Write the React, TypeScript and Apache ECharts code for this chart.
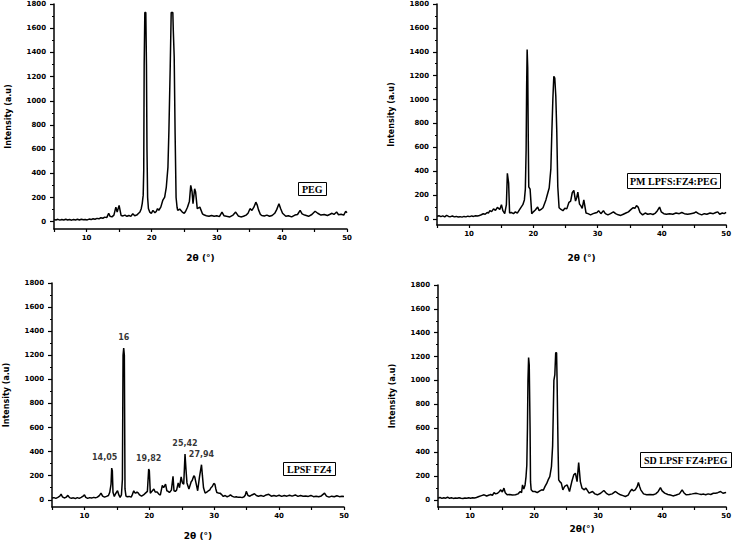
import React, { useEffect, useRef } from "react";
import * as echarts from "echarts";

// ---- data (2θ in degrees, intensity in a.u.) ----
const pegData: number[][] = [
  [5.0,18],[5.3,14],[5.6,20],[5.9,13],[6.2,19],[6.5,15],[6.8,21],[7.1,14],[7.4,18],[7.7,13],[8.0,19],[8.3,15],[8.6,20],[8.9,14],[9.2,21],[9.5,16],[9.8,19],[10.1,15],[10.4,22],[10.7,18],[11.0,25],[11.3,21],[11.6,28],[11.9,24],[12.2,33],[12.5,29],[12.8,38],[13.1,34],[13.4,70],[13.6,45],[13.9,40],[14.2,55],[14.5,121],[14.7,80],[15.0,135],[15.3,52],[15.6,48],[15.9,55],[16.2,45],[16.5,52],[16.8,44],[17.1,66],[17.4,50],[17.7,55],[18.0,70],[18.2,80],[18.4,108],[18.55,150],[18.7,220],[18.78,420],[18.85,1300],[18.95,1730],[19.1,1730],[19.2,1300],[19.28,600],[19.38,200],[19.5,110],[19.7,80],[19.95,70],[20.2,94],[20.5,75],[20.7,85],[20.9,108],[21.1,95],[21.4,121],[21.7,176],[22.0,204],[22.25,287],[22.5,452],[22.65,756],[22.85,1281],[23.0,1730],[23.25,1730],[23.32,1585],[23.46,1364],[23.6,730],[23.75,200],[23.9,120],[24.0,94],[24.3,105],[24.7,80],[25.0,70],[25.2,85],[25.5,120],[25.8,170],[26.0,301],[26.2,250],[26.35,149],[26.6,273],[26.75,246],[27.0,108],[27.4,121],[27.8,66],[28.1,55],[28.4,50],[28.8,45],[29.2,52],[29.6,45],[30.0,50],[30.4,42],[30.8,80],[31.1,50],[31.5,45],[32.0,40],[32.5,55],[32.9,80],[33.3,48],[33.7,40],[34.1,45],[34.5,55],[34.8,70],[35.1,108],[35.4,94],[35.7,120],[36.0,162],[36.2,140],[36.4,100],[36.7,60],[36.9,52],[37.3,48],[37.7,55],[38.1,45],[38.5,52],[38.9,70],[39.2,100],[39.55,148],[39.8,110],[40.1,70],[40.6,45],[41.0,50],[41.5,40],[42.0,55],[42.4,60],[42.8,94],[43.1,65],[43.5,55],[44.1,45],[44.6,60],[45.1,87],[45.5,70],[46.0,55],[46.5,60],[47.0,52],[47.4,62],[47.7,70],[48.0,60],[48.4,80],[48.7,58],[49.1,62],[49.5,55],[49.8,87],[50.0,75]
];

const pmData: number[][] = [
  [5.0,22],[5.3,28],[5.6,20],[5.9,26],[6.2,18],[6.5,30],[6.8,22],[7.1,20],[7.4,25],[7.7,18],[8.0,22],[8.3,17],[8.6,20],[8.9,16],[9.2,22],[9.5,18],[9.8,24],[10.1,20],[10.4,26],[10.7,22],[11.0,28],[11.3,25],[11.6,30],[11.9,36],[12.2,44],[12.5,40],[12.8,55],[13.0,50],[13.23,70],[13.5,62],[13.8,85],[14.1,72],[14.4,97],[14.77,80],[15.03,120],[15.25,70],[15.54,45],[15.8,120],[15.95,382],[16.15,300],[16.3,50],[16.56,55],[16.9,45],[17.2,60],[17.5,50],[17.8,75],[18.1,100],[18.36,120],[18.6,160],[18.75,250],[18.87,575],[18.95,1100],[19.03,1419],[19.12,1265],[19.2,700],[19.28,270],[19.49,250],[19.74,45],[20.0,60],[20.3,75],[20.67,100],[20.9,70],[21.2,80],[21.5,95],[21.95,160],[22.2,210],[22.46,260],[22.72,420],[22.87,720],[23.03,1000],[23.18,1195],[23.33,1180],[23.49,1030],[23.64,740],[23.8,270],[24.0,95],[24.3,80],[24.6,70],[24.9,90],[25.2,85],[25.54,140],[25.8,150],[26.05,220],[26.3,240],[26.56,150],[26.75,180],[26.92,225],[27.18,125],[27.4,110],[27.6,90],[27.85,160],[28.2,50],[28.5,45],[28.9,35],[29.3,45],[29.6,50],[29.9,55],[30.15,70],[30.5,45],[30.9,70],[31.2,45],[31.6,35],[32.0,45],[32.46,60],[32.8,45],[33.2,35],[33.6,30],[34.0,40],[34.4,50],[34.8,60],[35.0,70],[35.3,85],[35.54,95],[35.8,90],[36.05,112],[36.3,100],[36.6,55],[37.0,35],[37.4,50],[37.8,40],[38.2,45],[38.6,38],[39.0,50],[39.3,70],[39.64,100],[39.9,60],[40.3,45],[40.7,40],[41.2,45],[41.7,40],[42.2,50],[42.7,45],[43.1,55],[43.5,45],[44.0,40],[44.5,45],[45.0,50],[45.3,60],[45.7,45],[46.2,35],[46.6,45],[47.0,40],[47.5,50],[48.0,45],[48.4,55],[48.7,60],[49.0,40],[49.4,50],[49.7,45],[50.0,55]
];

const lpsfData: number[][] = [
  [5.0,14],[5.3,18],[5.6,12],[5.9,20],[6.2,30],[6.4,47],[6.6,25],[6.9,15],[7.2,22],[7.45,37],[7.7,18],[8.0,12],[8.3,16],[8.6,10],[8.9,18],[9.2,12],[9.5,20],[9.8,30],[10.0,42],[10.2,20],[10.5,12],[10.8,18],[11.1,14],[11.4,20],[11.7,16],[12.0,22],[12.3,35],[12.55,55],[12.8,30],[13.1,22],[13.4,28],[13.7,35],[13.9,62],[14.1,130],[14.2,263],[14.3,240],[14.4,62],[14.6,28],[14.8,50],[15.1,76],[15.3,40],[15.5,20],[15.7,40],[15.85,170],[15.95,1200],[16.05,1260],[16.15,1200],[16.25,90],[16.4,30],[16.6,25],[16.9,28],[17.2,22],[17.4,45],[17.6,75],[17.75,60],[17.9,55],[18.1,65],[18.3,55],[18.5,40],[18.8,30],[19.1,40],[19.4,55],[19.7,70],[19.9,255],[20.0,240],[20.15,55],[20.4,70],[20.7,90],[20.9,65],[21.2,65],[21.5,45],[21.7,40],[22.0,120],[22.2,100],[22.5,130],[22.7,75],[22.9,70],[23.1,60],[23.4,80],[23.65,195],[23.8,75],[24.0,70],[24.2,80],[24.45,140],[24.65,100],[24.9,190],[25.1,140],[25.3,130],[25.5,379],[25.65,250],[25.8,140],[26.1,90],[26.45,150],[26.6,160],[26.86,200],[27.0,190],[27.15,150],[27.45,75],[27.73,190],[28.04,291],[28.18,200],[28.35,100],[28.6,55],[28.9,65],[29.1,75],[29.3,80],[29.5,100],[29.7,110],[29.93,135],[30.1,130],[30.25,90],[30.4,60],[30.7,55],[30.9,55],[31.1,45],[31.4,28],[31.7,35],[32.0,25],[32.3,32],[32.5,40],[32.8,28],[33.1,22],[33.4,25],[33.7,20],[34.0,22],[34.3,18],[34.6,25],[34.8,40],[34.94,70],[35.2,35],[35.5,30],[35.8,40],[36.2,50],[36.5,35],[36.8,30],[37.2,35],[37.6,28],[38.0,40],[38.4,45],[38.8,30],[39.2,35],[39.6,30],[40.0,38],[40.4,28],[40.8,35],[41.2,30],[41.6,38],[42.0,30],[42.5,40],[42.9,28],[43.3,35],[43.7,30],[44.1,32],[44.5,28],[44.9,36],[45.3,26],[45.7,30],[46.1,25],[46.5,32],[47.0,55],[47.3,30],[47.7,22],[48.1,30],[48.5,25],[48.9,33],[49.3,26],[49.7,30],[50.0,28]
];

const sdData: number[][] = [
  [5.0,14],[5.3,20],[5.6,12],[5.9,18],[6.2,14],[6.5,22],[6.8,13],[7.1,17],[7.4,12],[7.7,16],[8.0,13],[8.3,18],[8.6,14],[8.9,12],[9.2,16],[9.5,13],[9.8,17],[10.1,14],[10.4,18],[10.7,15],[11.0,20],[11.4,28],[11.8,35],[12.2,42],[12.6,32],[13.0,40],[13.2,45],[13.5,38],[13.75,61],[14.0,50],[14.3,55],[14.6,70],[14.8,84],[15.05,65],[15.3,98],[15.5,60],[15.8,42],[16.2,45],[16.6,40],[17.1,42],[17.5,50],[17.85,70],[18.05,60],[18.2,125],[18.4,90],[18.6,125],[18.75,195],[18.87,290],[18.97,600],[19.05,1000],[19.15,1193],[19.25,1130],[19.32,1130],[19.38,600],[19.45,150],[19.55,84],[19.8,70],[20.15,70],[20.5,60],[20.9,75],[21.2,84],[21.45,80],[21.7,111],[22.0,140],[22.2,167],[22.46,195],[22.72,279],[22.9,450],[23.0,720],[23.1,1000],[23.25,1050],[23.38,1232],[23.52,1232],[23.6,1000],[23.68,690],[23.76,400],[23.85,168],[24.05,150],[24.26,140],[24.5,84],[24.77,112],[25.18,125],[25.54,70],[25.9,153],[26.2,209],[26.46,223],[26.72,153],[26.97,312],[27.23,153],[27.49,98],[27.85,84],[28.1,98],[28.6,56],[29.13,70],[29.5,50],[29.9,42],[30.4,55],[30.9,78],[31.3,55],[31.7,42],[32.2,50],[32.72,70],[33.1,55],[33.5,42],[33.9,35],[34.26,28],[34.7,40],[35.0,70],[35.28,89],[35.5,75],[35.8,84],[36.1,110],[36.3,145],[36.5,110],[36.67,84],[37.1,50],[37.6,42],[38.1,45],[38.6,42],[39.0,50],[39.4,70],[39.74,102],[40.0,75],[40.4,56],[40.9,45],[41.3,40],[41.7,33],[42.2,40],[42.7,50],[43.13,84],[43.4,60],[43.74,42],[44.2,45],[44.7,50],[45.28,56],[45.7,50],[46.1,45],[46.5,48],[46.8,42],[47.2,50],[47.6,45],[48.0,55],[48.36,56],[48.7,60],[49.13,70],[49.5,55],[49.8,60],[50.0,61]
];

const panelNames = ["PEG", "PM LPFS:FZ4:PEG", "LPSF FZ4", "SD LPSF FZ4:PEG"];
const peakPoints: number[][] = [[14.2,263],[16.05,1260],[19.9,255],[25.5,379],[28.04,291]];
const peakLabels = ["14,05", "16", "19,82", "25,42", "27,94"];
const yMajorTicks = [0, 200, 400, 600, 800, 1000, 1200, 1400, 1600, 1800];
const yMinorTicks = [100, 300, 500, 700, 900, 1100, 1300, 1500, 1700];
const xTitles = ["2θ (°)", "2θ (°)", "2θ (°)", "2θ(°)"];
const yTitle = "Intensity (a.u)";

// ---- layout (pixels) ----
const grids = [
  { left: 54, top: 4, width: 293, height: 225, yMin: -60, xNameGap: 24 },
  { left: 437, top: 4, width: 292, height: 221, yMin: -50, xNameGap: 28 },
  { left: 52, top: 283, width: 292, height: 224, yMin: -60, xNameGap: 24 },
  { left: 438, top: 285, width: 291, height: 222, yMin: -60, xNameGap: 17 },
];
const boxes = [
  { left: 298, top: 182, padding: [2, 4] },
  { left: 627, top: 173, padding: [3, 3] },
  { left: 283, top: 462, padding: [2, 4] },
  { left: 640, top: 452, padding: [3, 4] },
];

const FONT = "DejaVu Sans";

export default function App() {
  const ref = useRef<HTMLDivElement>(null);
  useEffect(() => {
    if (!ref.current) return;
    const chart = echarts.init(ref.current, undefined, { renderer: "svg" });
    const seriesData = [pegData, pmData, lpsfData, sdData];

    const xAxis = grids.map((g, i) => ({
      type: "value",
      gridIndex: i,
      position: "bottom",
      min: 5,
      max: 50,
      interval: 5,
      name: xTitles[i],
      nameLocation: "middle",
      nameGap: g.xNameGap,
      nameTextStyle: { fontFamily: FONT, fontWeight: "bold", fontSize: 9, color: "#000" },
      axisLine: { show: true, onZero: false, lineStyle: { color: "#000", width: 1.5 } },
      axisTick: { show: true, length: 3, lineStyle: { color: "#000", width: 1.2 } },
      axisLabel: {
        show: true,
        margin: 5,
        fontFamily: FONT,
        fontWeight: "bold",
        fontSize: 7,
        color: "#000",
        formatter: (v: number) => (v % 10 === 0 ? String(v) : ""),
      },
      splitLine: { show: false },
    }));

    const yAxis: any[] = [];
    grids.forEach((g, i) => {
      yAxis.push({
        type: "value",
        gridIndex: i,
        position: "left",
        min: g.yMin,
        max: 1800,
        name: yTitle,
        nameLocation: "middle",
        nameGap: 42,
        nameTextStyle: { fontFamily: FONT, fontWeight: "bold", fontSize: 8, color: "#000" },
        axisLine: { show: true, onZero: false, lineStyle: { color: "#000", width: 1.5 } },
        axisTick: { show: true, length: 4, customValues: yMajorTicks, lineStyle: { color: "#000", width: 1.2 } },
        axisLabel: {
          show: true,
          customValues: yMajorTicks,
          margin: 8,
          fontFamily: FONT,
          fontWeight: "bold",
          fontSize: 7,
          color: "#000",
          formatter: (v: number) => String(v),
        },
        splitLine: { show: false },
      });
      yAxis.push({
        type: "value",
        gridIndex: i,
        position: "left",
        offset: 0,
        min: g.yMin,
        max: 1800,
        axisLine: { show: false, onZero: false },
        axisTick: { show: true, length: 2, customValues: yMinorTicks, lineStyle: { color: "#000", width: 1 } },
        axisLabel: { show: false },
        splitLine: { show: false },
      });
    });

    const series: any[] = seriesData.map((d, i) => ({
      type: "line",
      name: panelNames[i],
      xAxisIndex: i,
      yAxisIndex: i * 2,
      data: d,
      showSymbol: false,
      symbol: "none",
      lineStyle: { color: "#000", width: 1.5 },
      z: 3,
    }));
    series.push({
      type: "scatter",
      name: "peaks",
      xAxisIndex: 2,
      yAxisIndex: 4,
      data: peakPoints.map((p, k) => ({
        value: p,
        label: k === 0 ? { offset: [-7, 0] } : {},
      })),
      symbolSize: 1,
      itemStyle: { color: "rgba(0,0,0,0)" },
      label: {
        show: true,
        position: "top",
        distance: 6,
        fontFamily: FONT,
        fontWeight: "bold",
        fontSize: 8,
        color: "#000",
        formatter: (p: any) => peakLabels[p.dataIndex],
      },
      z: 4,
    });

    chart.setOption({
      animation: false,
      backgroundColor: "#fff",
      title: boxes.map((b, i) => ({
        text: panelNames[i],
        left: b.left,
        top: b.top,
        padding: b.padding,
        borderColor: "#000",
        borderWidth: 1,
        backgroundColor: "#fff",
        textStyle: { fontFamily: "Liberation Serif", fontWeight: "bold", fontSize: 10, color: "#000" },
      })),
      grid: grids.map((g) => ({ left: g.left, top: g.top, width: g.width, height: g.height })),
      xAxis,
      yAxis,
      series,
    });
    return () => chart.dispose();
  }, []);
  return <div ref={ref} style={{ position: "absolute", left: 0, top: 0, width: 734, height: 541 }} />;
}
